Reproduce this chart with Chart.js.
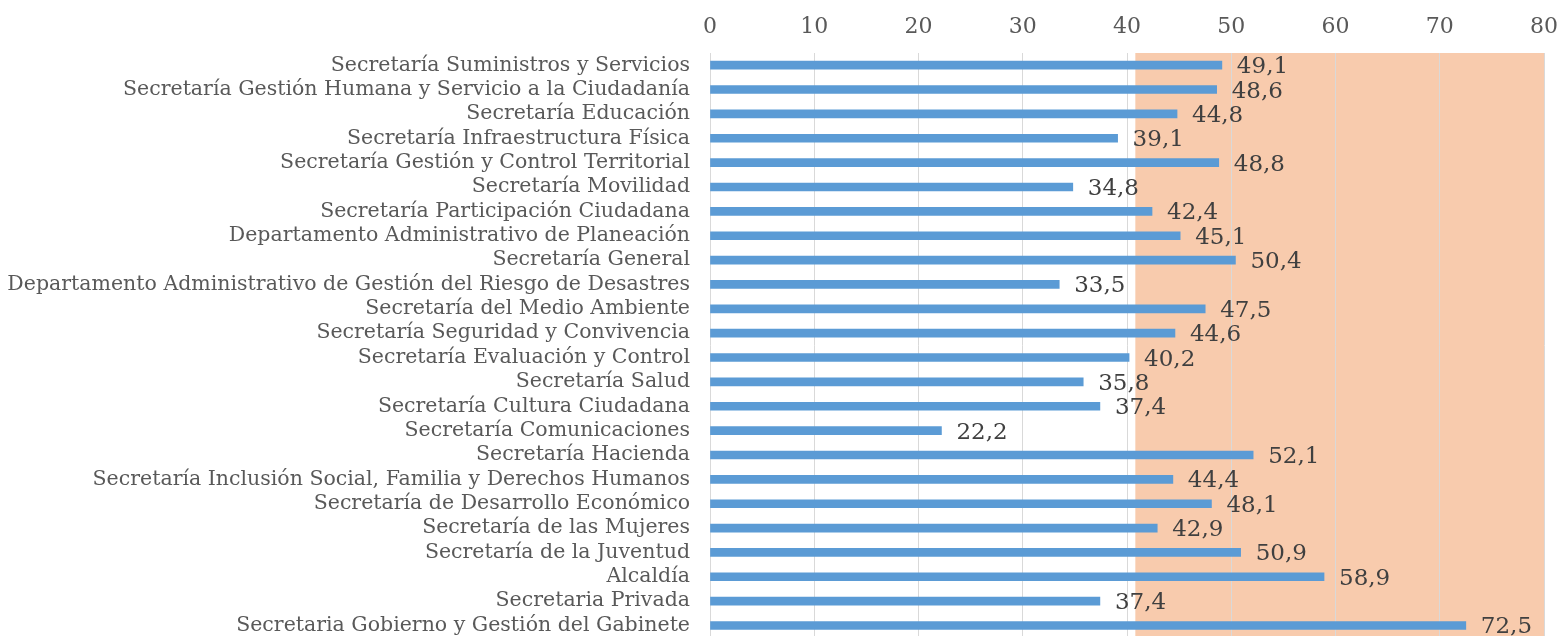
<!DOCTYPE html>
<html><head><meta charset="utf-8">
<script src="https://cdn.jsdelivr.net/npm/chart.js@4"></script>
<style>html,body{margin:0;padding:0;overflow:hidden;background:#fff;width:1566px;height:636px}canvas{display:block}</style>
</head><body><canvas id="c" width="1571" height="670" style="width:1571px;height:670px"></canvas>
<script>
const categories = [
  "Secretaría Suministros y Servicios",
  "Secretaría Gestión Humana y Servicio a la Ciudadanía",
  "Secretaría Educación",
  "Secretaría Infraestructura Física",
  "Secretaría Gestión y Control Territorial",
  "Secretaría Movilidad",
  "Secretaría Participación Ciudadana",
  "Departamento Administrativo de Planeación",
  "Secretaría General",
  "Departamento Administrativo de Gestión del Riesgo de Desastres",
  "Secretaría del Medio Ambiente",
  "Secretaría Seguridad y Convivencia",
  "Secretaría Evaluación y Control",
  "Secretaría Salud",
  "Secretaría Cultura Ciudadana",
  "Secretaría Comunicaciones",
  "Secretaría Hacienda",
  "Secretaría Inclusión Social, Familia y Derechos Humanos",
  "Secretaría de Desarrollo Económico",
  "Secretaría de las Mujeres",
  "Secretaría de la Juventud",
  "Alcaldía",
  "Secretaria Privada",
  "Secretaria Gobierno y Gestión del Gabinete"
];
const values = [49.1,48.6,44.8,39.1,48.8,34.8,42.4,45.1,50.4,33.5,47.5,44.6,40.2,35.8,37.4,22.2,52.1,44.4,48.1,42.9,50.9,58.9,37.4,72.5];
const axisMin = 0, axisMax = 80, axisStep = 10;
const bandStart = 40.8, bandEnd = 80;

const FONT = "'DejaVu Serif', serif";

const bandPlugin = {
  id: 'band',
  beforeDraw(chart) {
    const {ctx, chartArea, scales} = chart;
    const x0 = scales.x.getPixelForValue(bandStart);
    const x1 = scales.x.getPixelForValue(bandEnd);
    ctx.save();
    ctx.fillStyle = '#F8CBAD';
    ctx.fillRect(x0, chartArea.top, x1 - x0, chartArea.bottom - chartArea.top);
    ctx.restore();
  }
};
const labelPlugin = {
  id: 'vlabels',
  afterDatasetsDraw(chart) {
    const {ctx} = chart;
    const meta = chart.getDatasetMeta(0);
    ctx.save();
    ctx.font = "23px " + FONT;
    ctx.fillStyle = '#404040';
    ctx.textAlign = 'left';
    ctx.textBaseline = 'middle';
    meta.data.forEach((el, i) => {
      const txt = values[i].toFixed(1).replace('.', ',');
      ctx.fillText(txt, el.x + 15, el.y + 2);
    });
    ctx.restore();
  }
};

const chart = new Chart(document.getElementById('c'), {
  type: 'bar',
  data: {
    labels: categories,
    datasets: [{
      data: values,
      backgroundColor: '#5B9BD5',
      borderWidth: 0,
      barThickness: 8
    }]
  },
  options: {
    indexAxis: 'y',
    responsive: false,
    animation: false,
    layout: {padding: {left: 0, right: 20, top: 0, bottom: 2}},
    plugins: {legend: {display: false}, tooltip: {enabled: false}},
    scales: {
      x: {
        position: 'top',
        min: axisMin, max: axisMax,
        ticks: {stepSize: axisStep, color: '#595959', font: {family: FONT, size: 22}, padding: 13},
        grid: {color: '#D9D9D9', lineWidth: 1, drawTicks: false},
        border: {display: false},
        afterFit(s) { s.height = 53; }
      },
      y: {
        ticks: {color: '#595959', font: {family: FONT, size: 20.5}, padding: 20, autoSkip: false},
        grid: {display: false, drawTicks: false},
        border: {display: false},
        afterFit(s) { s.width = 710; }
      }
    }
  },
  plugins: [bandPlugin, labelPlugin]
});
</script>
</body></html>
